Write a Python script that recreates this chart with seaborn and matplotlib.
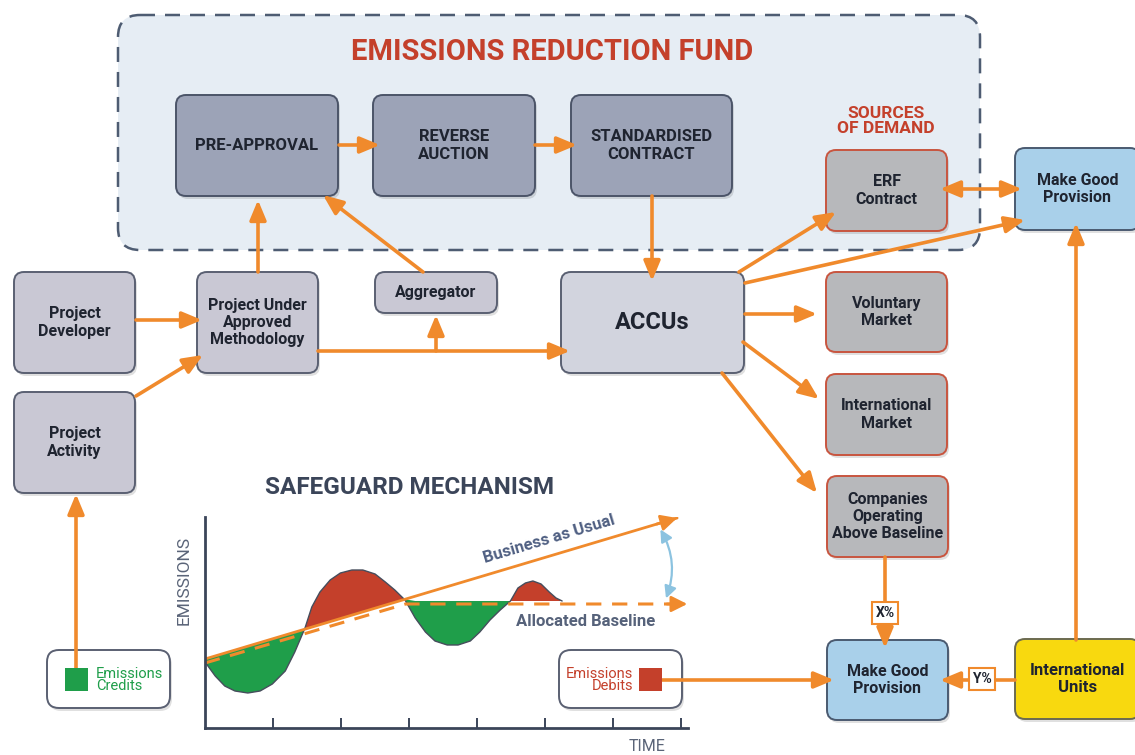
import numpy as np
import matplotlib
matplotlib.use("Agg")
import matplotlib.pyplot as plt
import seaborn as sns
from matplotlib.patches import FancyBboxPatch, FancyArrowPatch

W, H = 1135, 755
ORANGE = "#f08a2c"
RED = "#c4402b"
GREEN = "#1f9e4a"
DARK = "#1f2430"
SLATE = "#3b4559"

# safeguard mechanism curve (time units, emissions units)
curve_t = [0, 0.15, 0.29, 0.44, 0.63, 0.81, 0.99, 1.18, 1.32, 1.47, 1.57, 1.69,
           1.84, 1.99, 2.16, 2.32, 2.50, 2.65, 2.79, 2.94, 3.09, 3.24, 3.38, 3.56,
           3.72, 3.90, 4.04, 4.19, 4.34, 4.49, 4.60, 4.71, 4.82, 4.94, 5.06, 5.16, 5.25]
curve_e = [6.6, 5.2, 4.2, 3.7, 3.5, 3.7, 4.4, 5.7, 7.6, 10.0, 12.1, 13.6,
           14.8, 15.5, 15.8, 15.8, 15.4, 14.6, 13.8, 12.8, 11.0, 9.6, 8.7, 8.3,
           8.3, 8.7, 9.6, 10.8, 11.8, 12.7, 14.0, 14.5, 14.7, 14.4, 13.6, 13.0, 12.7]
bau_t = [0, 6.94]
bau_e = [6.9, 21.0]
base_t = [0, 2.95, 7.09]
base_e = [6.5, 12.4, 12.4]
flat_level = 12.7
time_ticks = [1, 2, 3, 4, 5, 6, 7]

# diagram boxes: x0, y0, x1, y1 in pixels (top-left origin)
stage_boxes = {
    "PRE-APPROVAL": (176, 95, 338, 196),
    "REVERSE\nAUCTION": (373, 95, 535, 196),
    "STANDARDISED\nCONTRACT": (571, 95, 732, 196),
}
project_boxes = {
    "Project\nDeveloper": (14, 272, 135, 373),
    "Project\nActivity": (14, 392, 135, 493),
    "Project Under\nApproved\nMethodology": (197, 272, 318, 373),
    "Aggregator": (375, 272, 497, 313),
}
demand_boxes = {
    "ERF\nContract": (826, 150, 947, 231),
    "Voluntary\nMarket": (826, 272, 947, 352),
    "International\nMarket": (826, 374, 947, 455),
    "Companies\nOperating\nAbove Baseline": (827, 476, 948, 557),
}
makegood_boxes = [(1015, 148, 1140, 230), (827, 640, 948, 720)]

arrows = [
    ((339, 145), (380, 145)),
    ((535, 145), (577, 145)),
    ((652, 196), (652, 281)),
    ((258, 272), (258, 200)),
    ((423, 272), (323, 195)),
    ((136, 320), (202, 320)),
    ((136, 396), (203, 355)),
    ((318, 351), (570, 351)),
    ((436, 351), (436, 315)),
    ((739, 272), (836, 212)),
    ((745, 283), (1025, 220)),
    ((745, 314), (817, 314)),
    ((743, 342), (819, 399)),
    ((722, 373), (817, 493)),
    ((1076, 640), (1076, 223)),
    ((885, 557), (885, 648)),
    ((1015, 680), (940, 680)),
    ((662, 680), (834, 680)),
    ((76, 668), (76, 494)),
]

sns.set_theme(style="white")
plt.rcParams["font.family"] = ["Roboto", "DejaVu Sans"]

fig = plt.figure(figsize=(W / 100, H / 100), dpi=100)
ax = fig.add_axes([0, 0, 1, 1])
ax.set_xlim(0, W)
ax.set_ylim(H, 0)
ax.axis("off")


def draw_box(x0, y0, x1, y1, text, fc, ec, size=11.5, weight="bold", tc=DARK, r=10, lw=1.4):
    shadow = FancyBboxPatch((x0 + 2, y0 + 3), x1 - x0, y1 - y0,
                            boxstyle=f"round,pad=0,rounding_size={r}",
                            fc="black", ec="none", alpha=0.12, zorder=1.5)
    ax.add_patch(shadow)
    patch = FancyBboxPatch((x0, y0), x1 - x0, y1 - y0,
                           boxstyle=f"round,pad=0,rounding_size={r}",
                           fc=fc, ec=ec, lw=lw, zorder=2)
    ax.add_patch(patch)
    if text:
        ax.text((x0 + x1) / 2, (y0 + y1) / 2, text, ha="center", va="center",
                fontsize=size, fontweight=weight, color=tc, linespacing=1.2, zorder=5)


def draw_arrow(p0, p1, style="-|>,head_length=0.6,head_width=0.25"):
    ax.annotate("", xy=p1, xytext=p0,
                arrowprops=dict(arrowstyle=style, color=ORANGE, lw=2.6,
                                mutation_scale=20, shrinkA=0, shrinkB=0),
                zorder=4)


# emissions reduction fund region
region = FancyBboxPatch((118, 15), 862, 235, boxstyle="round,pad=0,rounding_size=22",
                        fc="#e6edf4", ec="#4e5c72", lw=1.8, linestyle=(0, (6, 4)), zorder=1)
ax.add_patch(region)
ax.text(552, 52, "EMISSIONS REDUCTION FUND", ha="center", va="center",
        fontsize=21, fontweight="bold", color=RED)
ax.text(886, 121, "SOURCES\nOF DEMAND", ha="center", va="center", fontsize=12.5,
        fontweight="bold", color=RED, linespacing=1.0)

for label, (x0, y0, x1, y1) in stage_boxes.items():
    draw_box(x0, y0, x1, y1, label, "#9ca3b7", "#4b5468", size=12)
for label, (x0, y0, x1, y1) in project_boxes.items():
    draw_box(x0, y0, x1, y1, label, "#c9c8d4", "#5a6072")
draw_box(561, 272, 744, 373, "ACCUs", "#d2d4de", "#5a6072", size=17)
for label, (x0, y0, x1, y1) in demand_boxes.items():
    draw_box(x0, y0, x1, y1, label, "#b7b8bb", "#c8553f")
for (x0, y0, x1, y1) in makegood_boxes:
    draw_box(x0, y0, x1, y1, "Make Good\nProvision", "#a9d0ea", "#4a5a70")
draw_box(1015, 639, 1140, 719, "International\nUnits", "#f8d90f", "#6b6a50", size=12)

# credit / debit legend boxes
draw_box(47, 650, 170, 708, "", "white", "#5a6072", r=12)
ax.add_patch(plt.Rectangle((65, 668), 23, 23, fc=GREEN, ec="none", zorder=6))
ax.text(96, 680, "Emissions\nCredits", ha="left", va="center", fontsize=10.5,
        color=GREEN, linespacing=0.9, zorder=6)
draw_box(559, 650, 682, 708, "", "white", "#5a6072", r=12)
ax.add_patch(plt.Rectangle((639, 668), 23, 23, fc=RED, ec="none", zorder=6))
ax.text(633, 680, "Emissions\nDebits", ha="right", va="center", fontsize=10.5,
        color=RED, linespacing=0.9, zorder=6)

for p0, p1 in arrows:
    draw_arrow(p0, p1)
draw_arrow((940, 189), (1022, 189), style="<|-|>,head_length=0.6,head_width=0.25")

for lab, cx, cy in [("X%", 885, 613), ("Y%", 982, 679)]:
    ax.add_patch(plt.Rectangle((cx - 13, cy - 11), 26, 22, fc="white", ec=ORANGE, lw=1.5, zorder=6))
    ax.text(cx, cy, lab, ha="center", va="center", fontsize=10, fontweight="bold",
            color=DARK, zorder=7)

# safeguard mechanism
ax.text(410, 488, "SAFEGUARD MECHANISM", ha="center", va="center", fontsize=17.5,
        fontweight="bold", color=SLATE)
ax.text(184, 580, "EMISSIONS", rotation=90, ha="center", va="center", fontsize=12.5,
        color="#5a6478")
ax.text(647, 739, "TIME", ha="center", va="top", fontsize=11.5, color="#5a6478")
arc = FancyArrowPatch((659, 527), (665, 601), connectionstyle="arc3,rad=-0.25",
                      arrowstyle="<|-|>,head_length=0.6,head_width=0.3",
                      mutation_scale=12, color="#8cc3e0", lw=1.6, zorder=4)
ax.add_patch(arc)

ax2 = fig.add_axes([205 / W, (H - 728) / H, (688 - 205) / W, (728 - 517) / H])
ax2.patch.set_alpha(0)
ax2.set_xlim(0, 7.1)
ax2.set_ylim(0, 21.1)
for side in ["top", "right"]:
    ax2.spines[side].set_visible(False)
for side in ["left", "bottom"]:
    ax2.spines[side].set_color(SLATE)
    ax2.spines[side].set_linewidth(2)
ax2.set_xticks(time_ticks)
ax2.set_yticks([])
ax2.tick_params(axis="x", direction="in", length=7, width=1.4, color=SLATE,
                labelbottom=False, bottom=True)

ct = np.array(curve_t)
ce = np.array(curve_e)
ref = np.where(ct <= base_t[1], np.interp(ct, bau_t, bau_e), flat_level)
ax2.fill_between(ct, ce, ref, where=ce <= ref, interpolate=True, color=GREEN, lw=0)
ax2.fill_between(ct, ce, ref, where=ce >= ref, interpolate=True, color=RED, lw=0)
sns.lineplot(x=curve_t, y=curve_e, sort=False, ax=ax2, color="#464d5c", lw=1.0)

sns.lineplot(x=bau_t, y=bau_e, ax=ax2, color=ORANGE, lw=2.0)
slope = (bau_e[1] - bau_e[0]) / (bau_t[1] - bau_t[0])
ax2.annotate("", xy=(bau_t[1], bau_e[1]), xytext=(bau_t[1] - 0.3, bau_e[1] - 0.3 * slope),
             arrowprops=dict(arrowstyle="-|>,head_length=0.6,head_width=0.3", color=ORANGE,
                             lw=2, mutation_scale=16, shrinkA=0, shrinkB=0),
             annotation_clip=False)
ax2.plot(base_t, base_e, color=ORANGE, lw=2.2, dashes=(5, 3.5), clip_on=False)
ax2.annotate("", xy=(base_t[2], base_e[2]), xytext=(base_t[2] - 0.3, base_e[2]),
             arrowprops=dict(arrowstyle="-|>,head_length=0.6,head_width=0.3", color=ORANGE,
                             lw=2, mutation_scale=16, shrinkA=0, shrinkB=0),
             annotation_clip=False)
ax2.text(5.06, 18.9, "Business as Usual", rotation=16.6, rotation_mode="anchor",
         ha="center", va="center", fontsize=12, fontweight="bold", color="#4f5f82")
ax2.text(5.6, 10.6, "Allocated Baseline", ha="center", va="center", fontsize=12,
         fontweight="bold", color="#56627a")

fig.savefig("out.png", dpi=100)
